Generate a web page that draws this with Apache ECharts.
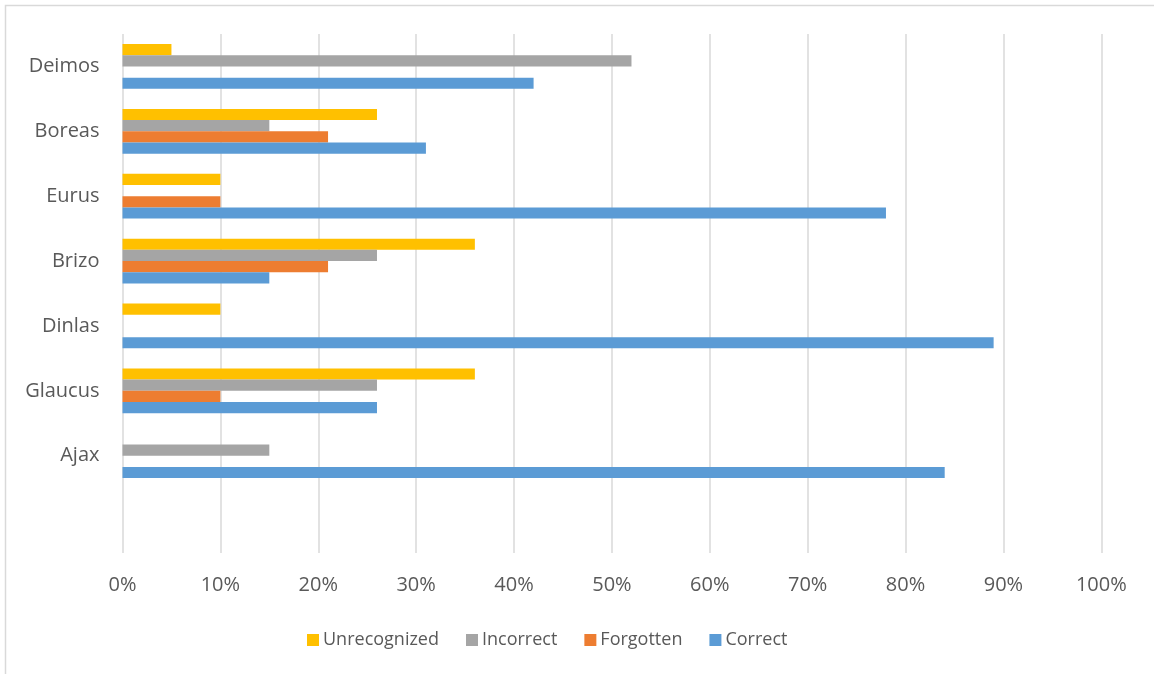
<!DOCTYPE html>
<html>
<head>
<meta charset="utf-8">
<style>
  html, body { margin: 0; padding: 0; background: #fff; }
  #chart { width: 1154px; height: 674px; }
</style>
<script src="https://cdn.jsdelivr.net/npm/echarts@6/dist/echarts.min.js"></script>
</head>
<body>
<div id="chart"></div>
<script>
// categories, bottom to top (first slot is empty, as in the original)
var categories = ['', 'Ajax', 'Glaucus', 'Dinlas', 'Brizo', 'Eurus', 'Boreas', 'Deimos'];

// values in percent, same order as categories
var unrecognized = [null, 0, 36, 10, 36, 10, 26, 5];
var incorrect    = [null, 15, 26, 0, 26, 0, 15, 52];
var forgotten    = [null, 0, 10, 0, 21, 10, 21, 0];
var correct      = [null, 84, 26, 89, 15, 78, 31, 42];

var xTicks = { min: 0, max: 100, interval: 10 };

var textColor = '#595959';
var fontFamily = '"Open Sans", sans-serif';

var myChart = echarts.init(document.getElementById('chart'));

function bar(name, color, data) {
  return {
    name: name,
    type: 'bar',
    data: data,
    barGap: '0%',
    barCategoryGap: '31%',
    itemStyle: { color: color },
    emphasis: { disabled: true }
  };
}

myChart.setOption({
  animation: false,
  textStyle: { fontFamily: fontFamily },
  graphic: [{
    type: 'rect',
    shape: { x: 5.5, y: 5.5, width: 1300, height: 800 },
    style: { fill: 'none', stroke: '#d9d9d9', lineWidth: 1.5 },
    silent: true
  }],
  grid: {
    left: 122.5,
    right: 52.7,
    top: 34,
    bottom: 121
  },
  legend: {
    left: 302,
    top: 626,
    itemWidth: 12,
    itemHeight: 12,
    itemGap: 27,
    icon: 'rect',
    textStyle: { color: textColor, fontSize: 18, fontFamily: fontFamily, padding: [0, 0, 0, -1] },
    data: ['Unrecognized', 'Incorrect', 'Forgotten', 'Correct']
  },
  xAxis: {
    type: 'value',
    min: xTicks.min,
    max: xTicks.max,
    interval: xTicks.interval,
    axisLine: { show: false },
    axisTick: { show: false },
    splitLine: { show: true, lineStyle: { color: '#d9d9d9', width: 1.5 } },
    axisLabel: {
      color: textColor,
      fontSize: 20,
      margin: 22,
      formatter: '{value}%'
    }
  },
  yAxis: {
    type: 'category',
    data: categories,
    axisLine: { show: false },
    axisTick: { show: false },
    splitLine: { show: false },
    axisLabel: { color: textColor, fontSize: 20, margin: 23, padding: [4, 0, 0, 0] }
  },
  series: [
    bar('Unrecognized', '#ffc000', unrecognized),
    bar('Incorrect', '#a5a5a5', incorrect),
    bar('Forgotten', '#ed7d31', forgotten),
    bar('Correct', '#5b9bd5', correct)
  ]
});
</script>
</body>
</html>
